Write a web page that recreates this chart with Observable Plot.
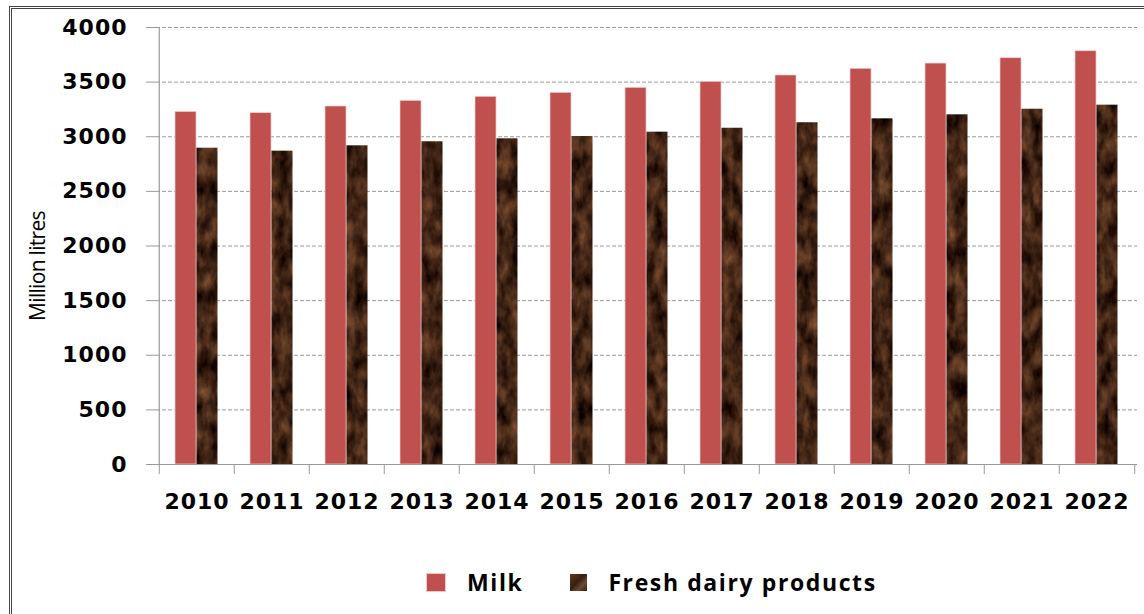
<!DOCTYPE html>
<html>
<head>
<meta charset="utf-8">
<script src="https://cdn.jsdelivr.net/npm/d3@7"></script>
<script src="https://cdn.jsdelivr.net/npm/@observablehq/plot@0.6"></script>
<style>
  html, body { margin: 0; padding: 0; background: #fff; width: 1144px; height: 614px; overflow: hidden; }
  #wrap { position: relative; width: 1144px; height: 614px; }
  #frame { position: absolute; left: 9px; top: 6px; width: 1300px; height: 800px;
           border-left: 3px double #444; border-top: 3px double #444; pointer-events: none; z-index: 5; }
  #chart { position: absolute; left: 0; top: 0; }
  #ytitle { position: absolute; left: -63px; top: 254px; width: 200px; height: 24px; line-height: 24px;
            text-align: center; transform: rotate(-90deg); transform-origin: 50% 50%;
            font-family: "Open Sans", sans-serif; font-size: 21px; letter-spacing: -0.7px; color: #000; }
  #legend { position: absolute; left: 426px; top: 566px; display: flex; align-items: center;
            font-family: "Open Sans", sans-serif; font-weight: 700; font-size: 23px; letter-spacing: 1.6px; color: #000; }
  .sw { display: inline-block; width: 18px; height: 17px; }
  .sw.milk { background: #c0504d; border: 0.5px solid #f0c8c6; margin-right: 21px; }
  .sw.fresh { background: linear-gradient(135deg, #5a3a22 0%, #3a1e0e 45%, #6b4a30 70%, #3a1e0e 100%); margin-left: 47px; margin-right: 21px; width: 17px; }
  .ticklbl text { letter-spacing: 1px; }
</style>
</head>
<body>
<div id="wrap">
  <div id="frame"></div>
  <div id="chart"></div>
  <div id="ytitle"></div>
  <div id="legend"></div>
</div>
<script>
// ---- data ----
const years = ["2010","2011","2012","2013","2014","2015","2016","2017","2018","2019","2020","2021","2022"];
const milk  = [3228, 3216, 3277, 3329, 3366, 3402, 3448, 3503, 3561, 3622, 3670, 3719, 3783];
const fresh = [2895, 2868, 2917, 2954, 2981, 3002, 3042, 3078, 3128, 3164, 3201, 3252, 3289];
const yTicks = [0, 500, 1000, 1500, 2000, 2500, 3000, 3500, 4000];
const seriesNames = ["Milk", "Fresh dairy products"];
const yTitle = "Million litres";

const milkRows = years.map((y, i) => ({year: y, value: milk[i], series: seriesNames[0]}));
const freshRows = years.map((y, i) => ({year: y, value: fresh[i], series: seriesNames[1]}));

const W = 1144, H = 530, ML = 156, MR = 7, MT = 27, MB = 66;
const bw = (W - ML - MR) / years.length;
const axisGray = "#9a9a9a";
const tickFont = {fontFamily: "DejaVu Sans", fontSize: 22, fontWeight: "bold", fill: "#000"};

const chart = Plot.plot({
  width: W, height: H,
  marginLeft: ML, marginRight: MR, marginTop: MT, marginBottom: MB,
  style: {background: "transparent", overflow: "visible"},
  x: {domain: years, padding: 0, axis: null},
  y: {domain: [0, 4000], axis: null},
  marks: [
    Plot.gridY(yTicks.filter(d => d > 0), {stroke: axisGray, strokeOpacity: 1, strokeDasharray: "4,2"}),
    Plot.barY(milkRows, {x: "year", y: "value", fill: "#c0504d", insetLeft: 16, insetRight: bw - 16 - 21.5,
                         stroke: "#f3d2d1", strokeWidth: 0.7}),
    Plot.barY(freshRows, {x: "year", y: "value", fill: "#4a2a17", insetLeft: bw - 16.5 - 21.5, insetRight: 16.5,
                          className: "freshbars"}),
    Plot.ruleY([0], {stroke: axisGray, strokeWidth: 1.2}),
    Plot.ruleX([years[0]], {dx: -bw / 2, y1: 0, y2: 4000, stroke: axisGray, strokeWidth: 1.2}),
    Plot.axisY(yTicks, {tickSize: 10, text: null, stroke: axisGray, label: null}),
    Plot.axisY(yTicks, {tickSize: 0, tickPadding: 29, label: null, tickFormat: d => String(d),
                        className: "ticklbl", ...tickFont}),
    Plot.axisX(years, {tickSize: 10, text: null, dx: -bw / 2, stroke: axisGray, label: null}),
    Plot.axisX([years[years.length - 1]], {tickSize: 10, text: null, dx: bw / 2, stroke: axisGray, label: null}),
    Plot.axisX(years, {tickSize: 0, tickPadding: 29, label: null, className: "ticklbl", ...tickFont})
  ]
});
document.getElementById("chart").appendChild(chart);

// texture for the fresh dairy bars
const svg = d3.select(chart);
const defs = svg.insert("defs", ":first-child");
defs.html(`
  <filter id="wood" x="0" y="0" width="1" height="1" color-interpolation-filters="sRGB">
    <feTurbulence type="fractalNoise" baseFrequency="0.09 0.045" numOctaves="4" seed="11" result="noise"/>
    <feColorMatrix in="noise" type="matrix"
      values="0.60 0 0 0 -0.05
              0.42 0 0 0 -0.07
              0.28 0 0 0 -0.06
              0 0 0 0 1" result="tint"/>
    <feComposite in="tint" in2="SourceGraphic" operator="in"/>
  </filter>`);
let freshG = svg.select("g.freshbars");
if (freshG.empty()) freshG = svg.selectAll('g[aria-label="bar"]').filter((d, i) => i === 1);
freshG.attr("filter", "url(#wood)");

// y title
d3.select("#ytitle").text(yTitle);

// legend
const legend = d3.select("#legend");
legend.append("span").attr("class", "sw milk");
legend.append("span").text(seriesNames[0]);
legend.append("span").attr("class", "sw fresh");
legend.append("span").text(seriesNames[1]);
</script>
</body>
</html>
